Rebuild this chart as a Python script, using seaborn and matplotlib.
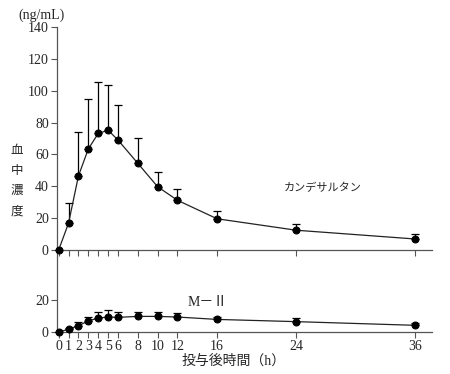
import matplotlib
matplotlib.use("Agg")
import matplotlib.pyplot as plt
import numpy as np
import pandas as pd
import seaborn as sns

# time points (h)
hours = [0, 1, 2, 3, 4, 5, 6, 8, 10, 12, 16, 24, 36]
tick_hours = [0, 1, 2, 3, 4, 5, 6, 8, 10, 12, 16, 24, 36]

# candesartan mean and upper SD (ng/mL)
cand_mean = [0, 16.8, 46.5, 63.5, 73.2, 75.2, 69.0, 54.4, 39.7, 31.2, 19.6, 12.4, 6.9]
cand_sd = [0, 12.4, 27.6, 31.2, 32.2, 28.2, 21.8, 16.1, 9.5, 7.4, 4.6, 3.7, 2.9]

# M-II mean and upper SD (ng/mL)
m2_mean = [0, 1.7, 4.0, 6.9, 8.8, 9.4, 9.2, 9.8, 9.8, 9.4, 7.9, 6.5, 4.2]
m2_sd = [0, 0.6, 2.0, 2.7, 3.5, 4.1, 3.5, 2.9, 2.9, 2.7, 1.7, 2.0, 1.2]

df = pd.DataFrame({"hours": hours, "cand": cand_mean, "cand_sd": cand_sd,
                   "m2": m2_mean, "m2_sd": m2_sd})

sns.set_style("ticks")
plt.rcParams["font.family"] = ["Liberation Serif", "Noto Sans CJK JP"]
plt.rcParams["font.size"] = 10

fig = plt.figure(figsize=(4.5, 3.74), dpi=100)
ax2 = fig.add_axes([0.127, 0.1123, 0.833, 0.2193])
ax1 = fig.add_axes([0.127, 0.3316, 0.833, 0.596])
ax1.patch.set_visible(False)
ax2.patch.set_visible(False)

for ax, col, sd in [(ax1, "cand", "cand_sd"), (ax2, "m2", "m2_sd")]:
    ax.errorbar(df["hours"], df[col], yerr=[np.zeros(len(df)), df[sd]],
                fmt="none", ecolor="black", elinewidth=0.9, capsize=3,
                capthick=0.9, zorder=2)
    sns.lineplot(data=df, x="hours", y=col, ax=ax, color="#222222",
                 linewidth=0.9, marker="o", markersize=5,
                 markerfacecolor="black", markeredgecolor="black", zorder=3)
    ax.set_xlim(-0.15, 37.7)
    ax.set_xticks(tick_hours)
    ax.set_xlabel("")
    ax.set_ylabel("")
    for s in ["top", "right"]:
        ax.spines[s].set_visible(False)
    for s in ["left", "bottom"]:
        ax.spines[s].set_color("#555555")
        ax.spines[s].set_linewidth(0.9)
    ax.tick_params(direction="out", length=4, width=0.8, color="#555555",
                   labelsize=10, pad=2)
    for ln in ax.lines:
        ln.set_clip_on(False)

ax1.set_ylim(0, 140)
ax1.set_yticks([0, 20, 40, 60, 80, 100, 120, 140])
ax1.tick_params(axis="x", labelbottom=False)

ax2.set_ylim(0, 51.5)
ax2.set_yticks([0, 20])
ax2.set_xlabel("投与後時間（h）", fontsize=10, labelpad=4)
ax2.xaxis.set_label_coords(0.472, -0.27)

ax1.annotate("カンデサルタン", xy=(22.7, 38.9), fontsize=8, ha="left", va="center")
ax2.annotate("M－Ⅱ", xy=(13.0, 18.5), fontsize=10, ha="left", va="center")

fig.text(0.04, 0.96, "(ng/mL)", fontsize=10, ha="left", va="center")
fig.text(0.038, 0.516, "血\n中\n濃\n度", fontsize=9, ha="center", va="center",
         linespacing=1.9)

fig.savefig("out.png", dpi=100)
